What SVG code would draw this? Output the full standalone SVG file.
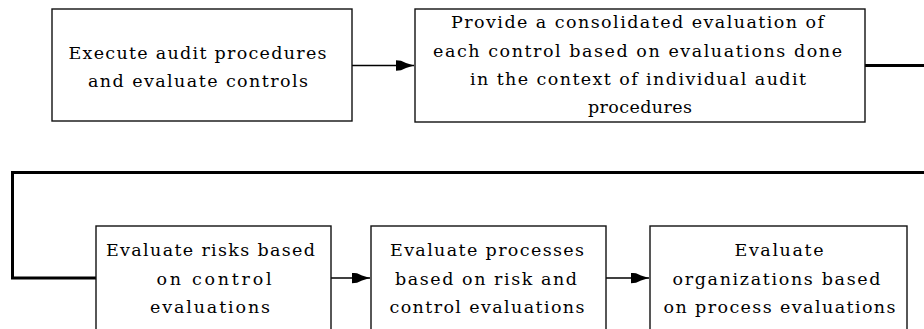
<svg xmlns="http://www.w3.org/2000/svg" width="924" height="329" viewBox="0 0 924 329">
  <style>
    .box { fill: #ffffff; stroke: #111111; stroke-width: 1.4; }
    .lbl { font-family: "DejaVu Serif", "Liberation Serif", serif; font-size: 17.5px; fill: #000000; text-anchor: middle; }
    .link { fill: none; stroke: #000000; stroke-width: 1.4; }
    .trunk { fill: none; stroke: #000000; stroke-width: 3; }
  </style>
  <defs>
    <marker id="head" viewBox="0 0 18 11" refX="18" refY="5.5" markerWidth="18" markerHeight="11" markerUnits="userSpaceOnUse" orient="auto">
      <path d="M0,0.3 L5,0.8 L10,3 L18,5.5 L10,8 L5,10.2 L0,10.7 Z" fill="#000000"/>
    </marker>
  </defs>
  <rect width="924" height="329" fill="#ffffff"/>

  <g id="connectors">
    <line class="link" x1="352" y1="65.5" x2="414" y2="65.5" marker-end="url(#head)"/>
    <line class="trunk" x1="865" y1="65.5" x2="930" y2="65.5"/>
    <path class="trunk" d="M930,172.5 H12.5 V278 H96"/>
    <line class="link" x1="331" y1="278" x2="370" y2="278" marker-end="url(#head)"/>
    <line class="link" x1="606" y1="278" x2="649" y2="278" marker-end="url(#head)"/>
  </g>

  <g id="execute-audit">
    <rect class="box" x="52" y="9" width="300" height="112"/>
    <text class="lbl" x="197.5" y="59" textLength="258" lengthAdjust="spacing">Execute audit procedures</text>
    <text class="lbl" x="198" y="87" textLength="220" lengthAdjust="spacing">and evaluate controls</text>
  </g>

  <g id="consolidated-evaluation">
    <rect class="box" x="415" y="9" width="450" height="113"/>
    <text class="lbl" x="637.5" y="28" textLength="373" lengthAdjust="spacing">Provide a consolidated evaluation of</text>
    <text class="lbl" x="637.5" y="56.5" textLength="409" lengthAdjust="spacing">each control based on evaluations done</text>
    <text class="lbl" x="638" y="85" textLength="336" lengthAdjust="spacing">in the context of individual audit</text>
    <text class="lbl" x="640" y="113" textLength="104" lengthAdjust="spacing">procedures</text>
  </g>

  <g id="evaluate-risks">
    <rect class="box" x="96" y="226" width="235" height="120"/>
    <text class="lbl" x="210.5" y="256" textLength="209" lengthAdjust="spacing">Evaluate risks based</text>
    <text class="lbl" x="214" y="284.5" textLength="115" lengthAdjust="spacing">on control</text>
    <text class="lbl" x="210" y="313" textLength="120" lengthAdjust="spacing">evaluations</text>
  </g>

  <g id="evaluate-processes">
    <rect class="box" x="371" y="226" width="235" height="120"/>
    <text class="lbl" x="487" y="256" textLength="194" lengthAdjust="spacing">Evaluate processes</text>
    <text class="lbl" x="486" y="284.5" textLength="182" lengthAdjust="spacing">based on risk and</text>
    <text class="lbl" x="487" y="313" textLength="195" lengthAdjust="spacing">control evaluations</text>
  </g>

  <g id="evaluate-organizations">
    <rect class="box" x="650" y="226" width="257" height="120"/>
    <text class="lbl" x="779" y="256" textLength="89" lengthAdjust="spacing">Evaluate</text>
    <text class="lbl" x="776.5" y="284.5" textLength="208" lengthAdjust="spacing">organizations based</text>
    <text class="lbl" x="779.5" y="313" textLength="232" lengthAdjust="spacing">on process evaluations</text>
  </g>
</svg>
